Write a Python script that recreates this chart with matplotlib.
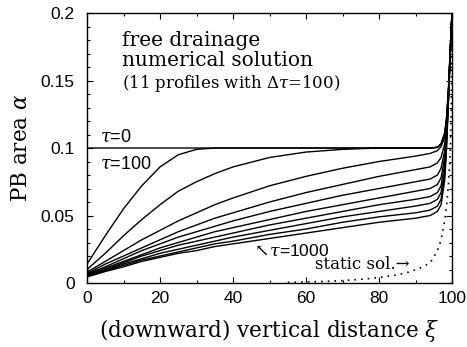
import numpy as np
import matplotlib
matplotlib.use("Agg")
import matplotlib.pyplot as plt
from matplotlib.ticker import MultipleLocator, FixedLocator, FixedFormatter

plt.rcParams['mathtext.fontset'] = 'dejavuserif'

# shared abscissa for the drainage profiles
xi = [0, 5, 10, 15, 20, 25, 30, 35, 40, 50, 60, 70, 80, 90, 94, 96, 97, 98, 98.5, 99, 99.5, 100]

# alpha profiles, tau = 0, 100, ..., 1000
profiles = {
    0:    [0.100, 0.100, 0.100, 0.100, 0.100, 0.100, 0.100, 0.100, 0.100, 0.100, 0.100, 0.100, 0.100, 0.100, 0.100, 0.1005, 0.103, 0.111, 0.122, 0.142, 0.172, 0.2],
    100:  [0.014, 0.035, 0.055, 0.072, 0.086, 0.095, 0.099, 0.100, 0.100, 0.100, 0.100, 0.100, 0.100, 0.100, 0.100, 0.1005, 0.103, 0.111, 0.122, 0.142, 0.172, 0.2],
    200:  [0.010, 0.022, 0.035, 0.047, 0.058, 0.068, 0.075, 0.081, 0.086, 0.093, 0.097, 0.099, 0.100, 0.100, 0.100, 0.1005, 0.103, 0.110, 0.121, 0.141, 0.171, 0.2],
    300:  [0.008, 0.016, 0.024, 0.032, 0.039, 0.046, 0.052, 0.058, 0.063, 0.072, 0.079, 0.085, 0.090, 0.094, 0.096, 0.098, 0.101, 0.108, 0.119, 0.140, 0.171, 0.2],
    400:  [0.007, 0.014, 0.020, 0.026, 0.032, 0.038, 0.043, 0.048, 0.052, 0.060, 0.067, 0.073, 0.079, 0.084, 0.086, 0.089, 0.093, 0.103, 0.116, 0.139, 0.170, 0.2],
    500:  [0.0065, 0.012, 0.018, 0.024, 0.029, 0.034, 0.038, 0.042, 0.046, 0.053, 0.059, 0.065, 0.070, 0.075, 0.077, 0.080, 0.085, 0.098, 0.113, 0.138, 0.170, 0.2],
    600:  [0.006, 0.011, 0.016, 0.021, 0.026, 0.030, 0.034, 0.038, 0.041, 0.047, 0.053, 0.058, 0.063, 0.068, 0.070, 0.073, 0.078, 0.093, 0.110, 0.137, 0.169, 0.2],
    700:  [0.0055, 0.010, 0.015, 0.020, 0.024, 0.028, 0.031, 0.034, 0.037, 0.043, 0.048, 0.053, 0.058, 0.062, 0.064, 0.067, 0.072, 0.088, 0.107, 0.136, 0.169, 0.2],
    800:  [0.005, 0.0095, 0.014, 0.018, 0.022, 0.025, 0.028, 0.031, 0.034, 0.039, 0.044, 0.049, 0.053, 0.057, 0.059, 0.062, 0.067, 0.084, 0.105, 0.135, 0.168, 0.2],
    900:  [0.005, 0.009, 0.013, 0.017, 0.020, 0.023, 0.026, 0.029, 0.031, 0.036, 0.040, 0.045, 0.049, 0.052, 0.054, 0.057, 0.062, 0.080, 0.102, 0.134, 0.168, 0.2],
    1000: [0.0045, 0.0085, 0.012, 0.016, 0.019, 0.022, 0.024, 0.027, 0.029, 0.033, 0.037, 0.041, 0.045, 0.048, 0.050, 0.053, 0.058, 0.076, 0.100, 0.133, 0.167, 0.2],
}

# static solution (dotted)
xi_static = [55, 60, 65, 70, 75, 80, 85, 88, 90, 92, 94, 95, 96, 97, 98, 98.5, 99, 99.5, 99.8, 100]
alpha_static = [0.0005, 0.0008, 0.0012, 0.0018, 0.0027, 0.0040, 0.0060, 0.0080, 0.0098, 0.012, 0.015,
                0.019, 0.024, 0.032, 0.046, 0.057, 0.072, 0.095, 0.130, 0.2]

xticks = [0, 20, 40, 60, 80, 100]
xtick_labels = ["0", "20", "40", "60", "80", "100"]
yticks = [0, 0.05, 0.1, 0.15, 0.2]
ytick_labels = ["0", "0.05", "0.1", "0.15", "0.2"]

serif = ['DejaVu Serif']
sans = ['Liberation Sans', 'DejaVu Sans']

fig = plt.figure(figsize=(4.67, 3.47), dpi=100)
ax = fig.add_axes([0.1863, 0.1844, 0.7816, 0.7781])

for tau, vals in profiles.items():
    ax.plot(xi, vals, color='black', linewidth=1.0)
ax.plot(xi_static, alpha_static, color='black', linewidth=1.2, linestyle=(0, (1, 3)))

ax.set_xlim(0, 100)
ax.set_ylim(0, 0.2)
ax.xaxis.set_major_locator(FixedLocator(xticks))
ax.xaxis.set_major_formatter(FixedFormatter(xtick_labels))
ax.yaxis.set_major_locator(FixedLocator(yticks))
ax.yaxis.set_major_formatter(FixedFormatter(ytick_labels))
ax.xaxis.set_minor_locator(MultipleLocator(10))
ax.yaxis.set_minor_locator(MultipleLocator(0.01))
ax.tick_params(which='both', direction='in', top=True, right=True, width=0.8)
ax.tick_params(which='major', length=4.5, labelsize=12.5)
ax.tick_params(axis='x', which='major', pad=6)
ax.tick_params(axis='y', which='major', pad=9)
ax.tick_params(which='minor', length=2.3)
for lab in ax.get_xticklabels() + ax.get_yticklabels():
    lab.set_family(sans)
for sp in ax.spines.values():
    sp.set_linewidth(1.0)

ax.set_xlabel(r"(downward) vertical distance $\xi$", family=serif, fontsize=15.5, labelpad=8)
ax.set_ylabel(r"PB area $\alpha$", family=serif, fontsize=15.5, labelpad=6)

ax.text(9.5, 0.1795, "free drainage", family=serif, fontsize=14.5, va='center')
ax.text(9.5, 0.1645, "numerical solution", family=serif, fontsize=14.5, va='center')
ax.text(9.5, 0.1475, r"(11 profiles with $\Delta\tau$=100)", family=serif, fontsize=12, va='center')

ax.text(3.5, 0.108, r"$\tau$=0", family=sans, fontsize=13, va='center')
ax.text(3.5, 0.088, r"$\tau$=100", family=sans, fontsize=13, va='center')
ax.text(45, 0.0237, r"$\nwarrow\!\tau$=1000", family=sans, fontsize=12.5, va='center')
ax.text(62.5, 0.0140, "static sol.\u2192", family=serif, fontsize=12, va='center')

fig.savefig("out.png", dpi=100)
